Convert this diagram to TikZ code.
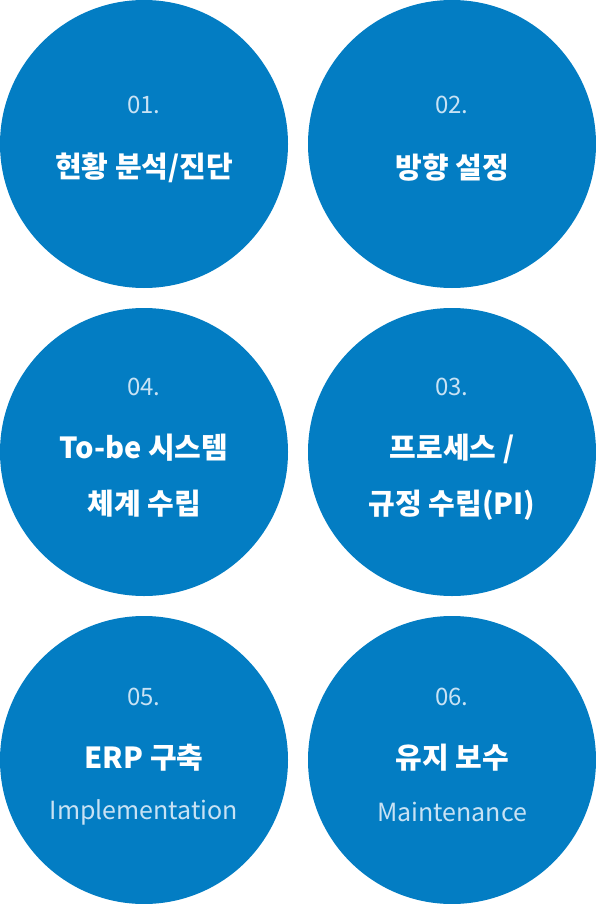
\documentclass[tikz,border=0pt]{standalone}
\usepackage{fontspec}
\setmainfont{Noto Sans CJK KR}
\definecolor{stepblue}{RGB}{3,125,195}
\definecolor{numblue}{RGB}{200,226,244}
\tikzset{
  stepcircle/.style={circle, fill=stepblue, minimum size=288pt, inner sep=0pt},
  stepnum/.style={text=numblue, font=\fontsize{24}{28}\selectfont},
  steptitle/.style={text=white, align=center, font=\bfseries\fontsize{29}{56}\selectfont},
  stepsub/.style={text=numblue, font=\fontsize{25}{29}\selectfont}
}
\begin{document}
\begin{tikzpicture}[x=1pt, y=-1pt]
    \useasboundingbox (0,0) rectangle (596,904);

    \node [stepcircle] (c1) at (144,144) {};
    \node [stepcircle] (c2) at (452,144) {};
    \node [stepcircle] (c4) at (144,452) {};
    \node [stepcircle] (c3) at (452,452) {};
    \node [stepcircle] (c5) at (144,760) {};
    \node [stepcircle] (c6) at (452,760) {};

    \node [stepnum] (n1) at ([yshift=39pt] c1.center) {01.};
    \node [steptitle] (t1) at ([yshift=-24pt] c1.center) {현황 분석/진단};

    \node [stepnum] (n2) at ([yshift=39pt] c2.center) {02.};
    \node [steptitle] (t2) at ([yshift=-24pt] c2.center) {방향 설정};

    \node [stepnum] (n4) at ([yshift=65pt] c4.center) {04.};
    \node [steptitle] (t4) at ([yshift=-24pt] c4.center) {To-be 시스템\\체계 수립};

    \node [stepnum] (n3) at ([yshift=65pt] c3.center) {03.};
    \node [steptitle] (t3) at ([yshift=-25pt] c3.center) {프로세스 /\\규정 수립(PI)};

    \node [stepnum] (n5) at ([yshift=63pt] c5.center) {05.};
    \node [steptitle] (t5) at ([yshift=2pt] c5.center) {ERP 구축};
    \node [stepsub] (s5) at ([yshift=-52pt] c5.center) {Implementation};

    \node [stepnum] (n6) at ([yshift=63pt] c6.center) {06.};
    \node [steptitle] (t6) at ([yshift=2pt] c6.center) {유지 보수};
    \node [stepsub] (s6) at ([yshift=-52pt] c6.center) {Maintenance};
  \end{tikzpicture}
\end{document}
